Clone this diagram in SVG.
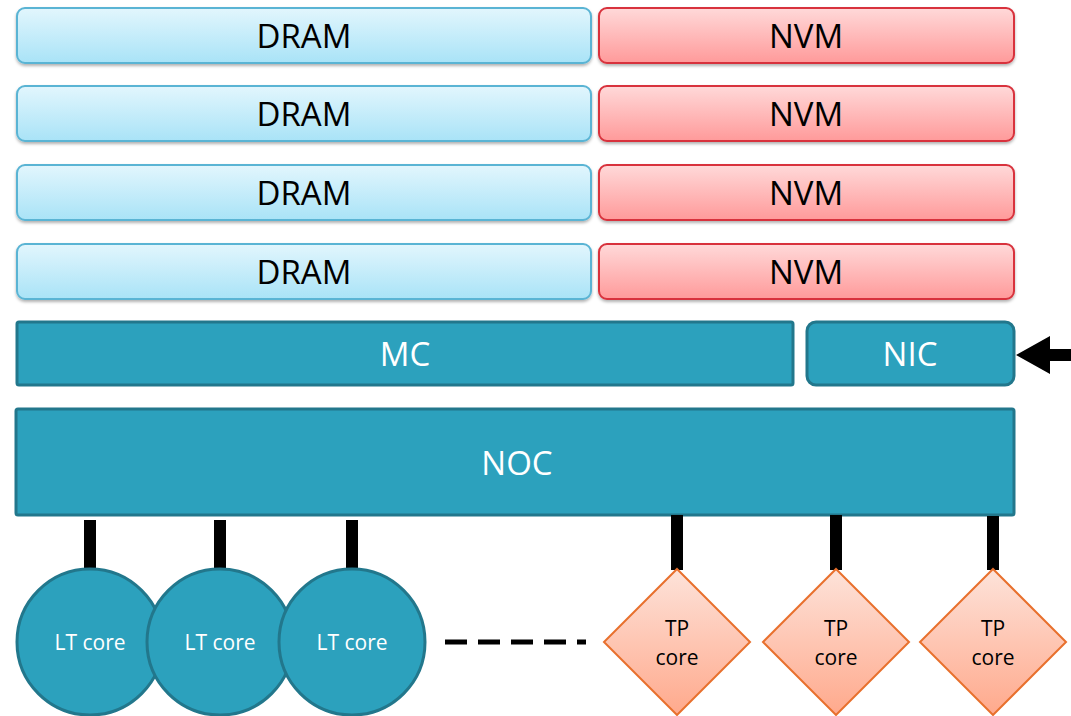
<svg xmlns="http://www.w3.org/2000/svg" width="1071" height="716" viewBox="0 0 1071 716">
<style>
.dram{fill:url(#gDram);stroke:#5ab4d4;stroke-width:2;filter:url(#sh)}
.nvm{fill:url(#gNvm);stroke:#d8323c;stroke-width:2;filter:url(#sh)}
.teal{fill:#2ca1bd;stroke:#22778c;stroke-width:3}
.tp{fill:url(#gTp);stroke:#e8702d;stroke-width:2}
.lbl{font-family:"Open Sans","Noto Sans",sans-serif;font-size:33px;text-anchor:middle;dominant-baseline:central}
.blk{fill:#000}
.wht{fill:#fff}
.sm{font-family:"Open Sans","Noto Sans",sans-serif;font-size:21px;text-anchor:middle;dominant-baseline:central}
.bar{stroke:#000;stroke-width:12}
</style>
<defs>
<linearGradient id="gDram" x1="0" y1="0" x2="0" y2="1"><stop offset="0" stop-color="#e2f6fd"/><stop offset="1" stop-color="#a9e3f7"/></linearGradient>
<linearGradient id="gNvm" x1="0" y1="0" x2="0" y2="1"><stop offset="0" stop-color="#ffd9d9"/><stop offset="1" stop-color="#ff9a9a"/></linearGradient>
<linearGradient id="gTp" x1="0" y1="0" x2="0" y2="1"><stop offset="0" stop-color="#fde3da"/><stop offset="1" stop-color="#ffa98c"/></linearGradient>
<filter id="sh" x="-5%" y="-20%" width="110%" height="150%"><feDropShadow dx="0" dy="2" stdDeviation="1.5" flood-color="#000" flood-opacity="0.3"/></filter>
</defs>
<g id="dram1"><rect class="dram" x="17" y="8" width="574" height="55" rx="8"/><text class="lbl blk" x="304" y="35">DRAM</text></g>
<g id="nvm1"><rect class="nvm" x="599" y="8" width="415" height="55" rx="8"/><text class="lbl blk" x="806" y="35">NVM</text></g>
<g id="dram2"><rect class="dram" x="17" y="86" width="574" height="55" rx="8"/><text class="lbl blk" x="304" y="113">DRAM</text></g>
<g id="nvm2"><rect class="nvm" x="599" y="86" width="415" height="55" rx="8"/><text class="lbl blk" x="806" y="113">NVM</text></g>
<g id="dram3"><rect class="dram" x="17" y="165" width="574" height="55" rx="8"/><text class="lbl blk" x="304" y="192">DRAM</text></g>
<g id="nvm3"><rect class="nvm" x="599" y="165" width="415" height="55" rx="8"/><text class="lbl blk" x="806" y="192">NVM</text></g>
<g id="dram4"><rect class="dram" x="17" y="244" width="574" height="55" rx="8"/><text class="lbl blk" x="304" y="271">DRAM</text></g>
<g id="nvm4"><rect class="nvm" x="599" y="244" width="415" height="55" rx="8"/><text class="lbl blk" x="806" y="271">NVM</text></g>
<g id="mc"><rect class="teal" x="17" y="322" width="776" height="63" rx="2"/><text class="lbl wht" x="405" y="353">MC</text></g>
<g id="nic"><rect class="teal" x="807" y="322" width="207" height="63" rx="9"/><text class="lbl wht" x="910" y="353">NIC</text></g>
<g id="noc"><rect class="teal" x="16" y="409" width="998" height="106" rx="2"/><text class="lbl wht" x="517" y="462">NOC</text></g>
<g id="connectors">
<line class="bar" x1="90" y1="520" x2="90" y2="570"/>
<line class="bar" x1="220" y1="520" x2="220" y2="570"/>
<line class="bar" x1="352" y1="520" x2="352" y2="570"/>
<line class="bar" x1="677" y1="515" x2="677" y2="570"/>
<line class="bar" x1="836" y1="515" x2="836" y2="570"/>
<line class="bar" x1="993" y1="516" x2="993" y2="570"/>
<line x1="445" y1="642" x2="586" y2="642" stroke="#000" stroke-width="5" stroke-dasharray="22,11"/>
<path d="M1071,349 L1050,349 L1050,336 L1016,355 L1050,374 L1050,361 L1071,361 Z" fill="#000"/>
</g>
<g id="lt1"><circle class="teal" cx="90" cy="642" r="73"/><text class="sm wht" x="90" y="642">LT core</text></g>
<g id="lt2"><circle class="teal" cx="220" cy="642" r="73"/><text class="sm wht" x="220" y="642">LT core</text></g>
<g id="lt3"><circle class="teal" cx="352" cy="642" r="73"/><text class="sm wht" x="352" y="642">LT core</text></g>
<g id="tp1"><polygon class="tp" points="677,569 750,642 677,715 604,642"/><text class="sm blk" x="677" y="628">TP</text><text class="sm blk" x="677" y="657">core</text></g>
<g id="tp2"><polygon class="tp" points="836,569 909,642 836,715 763,642"/><text class="sm blk" x="836" y="628">TP</text><text class="sm blk" x="836" y="657">core</text></g>
<g id="tp3"><polygon class="tp" points="993,569 1066,642 993,715 920,642"/><text class="sm blk" x="993" y="628">TP</text><text class="sm blk" x="993" y="657">core</text></g>
</svg>
